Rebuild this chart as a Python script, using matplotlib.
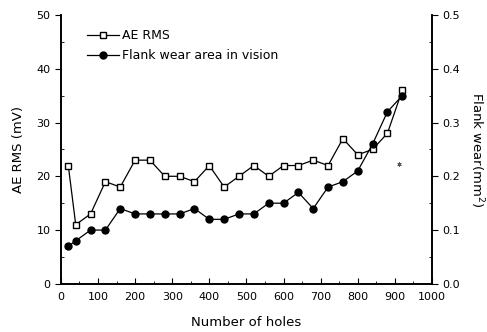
import matplotlib
matplotlib.use("Agg")
import matplotlib.pyplot as plt
from matplotlib.ticker import MultipleLocator

plt.rcParams['font.family'] = ['DejaVu Sans']

holes = [20, 40, 80, 120, 160, 200, 240, 280, 320, 360, 400, 440,
         480, 520, 560, 600, 640, 680, 720, 760, 800, 840, 880, 920]
ae_rms = [22, 11, 13, 19, 18, 23, 23, 20, 20, 19, 22, 18,
          20, 22, 20, 22, 22, 23, 22, 27, 24, 25, 28, 36]
flank = [0.07, 0.08, 0.10, 0.10, 0.14, 0.13, 0.13, 0.13, 0.13, 0.14, 0.12, 0.12,
         0.13, 0.13, 0.15, 0.15, 0.17, 0.14, 0.18, 0.19, 0.21, 0.26, 0.32, 0.35]
star_x, star_y = 910, 0.222

fig = plt.figure(figsize=(4.87, 3.32), dpi=100)
ax = fig.add_axes([0.125, 0.145, 0.762, 0.81])
ax2 = ax.twinx()

ax.plot(holes, ae_rms, color='black', lw=0.9, marker='s', ms=5,
        mfc='white', mec='black', mew=1.0, label='AE RMS', zorder=3)
ax2.plot(holes, flank, color='black', lw=0.9, marker='o', ms=5,
         mfc='black', mec='black', label='Flank wear area in vision', zorder=3)
ax2.plot([star_x], [star_y], marker=(6, 2, 0), color='0.35', ms=3, mew=0.6, lw=0)

ax.set_xlim(0, 1000)
ax.set_ylim(0, 50)
ax2.set_ylim(0, 0.5)

for a in (ax, ax2):
    a.spines['top'].set_visible(False)
    for s in a.spines.values():
        s.set_linewidth(1.2)

ax.xaxis.set_major_locator(MultipleLocator(100))
ax.xaxis.set_minor_locator(MultipleLocator(50))
ax.yaxis.set_major_locator(MultipleLocator(10))
ax.yaxis.set_minor_locator(MultipleLocator(5))
ax2.yaxis.set_minor_locator(MultipleLocator(0.05))
ax2.set_yticks([0.0, 0.1, 0.2, 0.3, 0.4, 0.5])
ax2.set_yticklabels(['0.0', '0.1', '0.2', '0.3', '0.4', '0.5'])

ax.tick_params(axis='x', which='both', direction='in', labelsize=8, pad=6)
ax.tick_params(axis='x', which='major', length=4)
ax.tick_params(axis='x', which='minor', length=2)
ax.tick_params(axis='y', which='major', direction='out', length=4, labelsize=8)
ax.tick_params(axis='y', which='minor', direction='in', length=2)
ax2.tick_params(axis='y', which='major', direction='out', length=4, labelsize=8)
ax2.tick_params(axis='y', which='minor', direction='in', length=2)

ax.set_xlabel('Number of holes', fontsize=9.5, labelpad=10)
ax.set_ylabel('AE RMS (mV)', fontsize=9.5, labelpad=8)
ax2.set_ylabel('Flank wear(mm$^2$)', fontsize=9.5, rotation=-90, labelpad=18)

h1, l1 = ax.get_legend_handles_labels()
h2, l2 = ax2.get_legend_handles_labels()
ax.legend(h1 + h2, l1 + l2, loc='upper left', bbox_to_anchor=(0.04, 0.99),
          frameon=False, fontsize=9, handlelength=2.6, handletextpad=0.2,
          labelspacing=0.6)

fig.savefig('out.png', dpi=100)
